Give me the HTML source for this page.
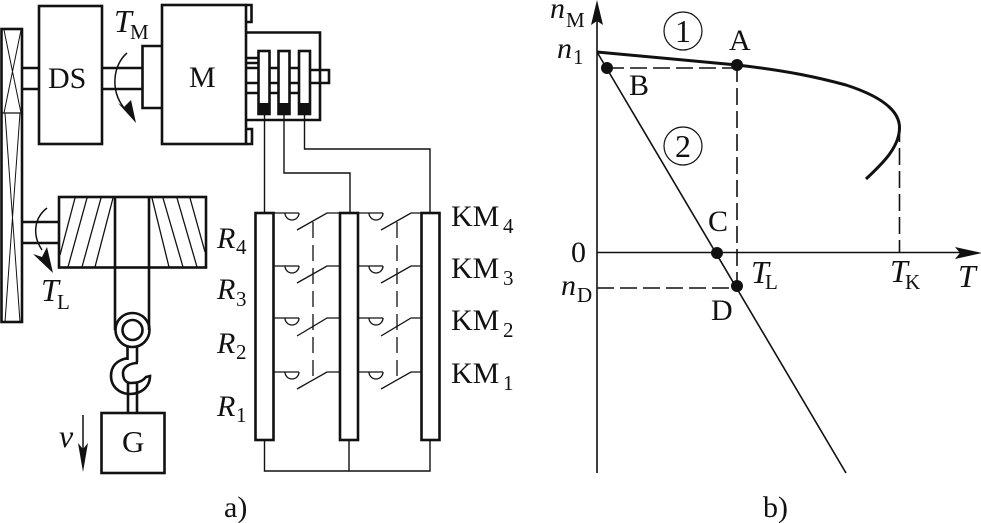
<!DOCTYPE html>
<html><head><meta charset="utf-8"><style>
html,body{margin:0;padding:0;background:#fff}
svg{display:block}
text{font-family:"Liberation Serif",serif;fill:#111;font-size:30px}
.i{font-style:italic}.s{font-size:21px}
</style></head><body>
<svg width="981" height="523" viewBox="0 0 981 523" xmlns="http://www.w3.org/2000/svg">
<g fill="none" stroke="#111" stroke-width="2.6">
<!-- left wheel -->
<rect x="1.500" y="29" width="20.500" height="293"/>
<path d="M2 113H21" stroke-width="1.2"/>
<path d="M4 30L21 113M21 30L4 113M5 113L20 322M20 113L5 322" stroke-width="1"/>
<path d="M22 68H38M22 89H38"/>
<rect x="39" y="6" width="63" height="138"/>
<path d="M102 68H142M102 89H142"/>
<path d="M161 46H142.500V108H161"/>
<rect x="162" y="5" width="84" height="139"/>
<path d="M246 5H251.500V22H246M246 129H252V144H246"/>
<path d="M246 32.500H320V120H246"/>
<rect x="258.500" y="51" width="11" height="63"/>
<rect x="278.500" y="51" width="11" height="63"/>
<rect x="299" y="51" width="11" height="63"/>
<path d="M246 58H258M246 63H258M246 68H258M269 68H278M289 68H298M246 83H258M269 83H278M289 83H298M246 93H258M269 93H278M289 93H298"/>
<path d="M310 70H329V83H310"/>
<!-- drum -->
<rect x="59" y="197" width="147" height="70.500"/>
<path d="M22 222H59M22 243H59"/>
<path d="M115 197V330M149 197V330"/>
<g stroke-width="1.300"><path d="M75 198L60 255M87 198L68 267M101 198L82 267M113 198L95 267M152 198L169 267M163 198L183 267M177 198L197 267M190 198L205 252"/></g>
<circle cx="132.500" cy="330" r="17"/>
<circle cx="132.500" cy="330" r="10"/>
<path d="M127.500 347V360M137 347V362"/>
<path d="M128 358C116 360 111 367 111 376C111 387 120 394 130 394C141 394 150 387 150 376L146 377C143 381 138 383 131 383C125 383 123 378 123 373C123 367 130 363 138 363"/>
<path d="M128 383V413M137 383V413"/>
<rect x="101.500" y="413" width="63" height="60"/>
<!-- curved arrows -->
<path d="M127 53C113 65 110 90 124 108" stroke-width="1.500"/>
<path d="M47 208C34 218 32 235 42 250" stroke-width="1.500"/>
<path d="M83 415V455" stroke-width="1.500"/>
<!-- wires -->
<g stroke-width="1.400">
<path d="M264.500 114V212M284 114V173H350V212M304.500 114V149H430V212M264.500 440V471H430V440M349 440V471"/>
</g>
<rect x="255.500" y="213" width="18" height="227"/>
<rect x="340" y="213" width="18" height="227"/>
<rect x="421.500" y="213" width="18" height="227"/>
<!-- switches -->
<g stroke-width="1.300">
<path d="M274 213H299M274 266H299M274 318H299M274 372H299M358 213H383M358 266H383M358 318H383M358 372H383"/>
<path d="M285 213A7 7 0 0 0 299 213M285 266A7 7 0 0 0 299 266M285 318A7 7 0 0 0 299 318M285 372A7 7 0 0 0 299 372M369 213A7 7 0 0 0 383 213M369 266A7 7 0 0 0 383 266M369 318A7 7 0 0 0 383 318M369 372A7 7 0 0 0 383 372"/>
<path d="M297 230L327 213H340M297 283L327 266H340M297 336L327 318H340M297 389L327 372H340M381 230L411 213H421M381 283L411 266H421M381 336L411 318H421M381 389L411 372H421"/>
<path d="M313 222V380M397 222V380" stroke-dasharray="16 7"/>
</g>
<!-- graph -->
<g stroke-width="1.600">
<path d="M597 12V473M597 252.500H965M597 52L846 473"/>
<path d="M607 68H737M597 288H737M737 65V286M899.500 125V252" stroke-dasharray="17 6"/>
<circle cx="683" cy="31" r="19" stroke-width="1.200"/>
<circle cx="683" cy="146" r="19" stroke-width="1.200"/>
</g>
<path d="M597 52L737 65C790 71 820 78 846 85C880 96 899 110 899.500 127C900 147 882 164 866 179" stroke-width="3"/>
</g>
<g fill="#111" stroke="none">
<rect x="258" y="103" width="12" height="11"/>
<rect x="278" y="103" width="12" height="11"/>
<rect x="298.500" y="103" width="12" height="11"/>
<path d="M136 123L118 103L124 107L131 100Z"/>
<path d="M53 273L33 254L42 257L47 247Z"/>
<path d="M83 472L78 443L83 449L88 443Z"/>
<path d="M597 0L603 25L597 21L591 25Z"/>
<path d="M982 253L955 247L960 253L955 259Z"/>
<circle cx="737" cy="65" r="6"/>
<circle cx="607" cy="68" r="6"/>
<circle cx="717" cy="253" r="6"/>
<circle cx="737" cy="286" r="6"/>
</g>
<text x="48" y="88" style="font-size:30px">DS</text>
<text x="189" y="87" style="font-size:30px">M</text>
<text x="122" y="452" style="font-size:31px">G</text>
<text x="114" y="32" class="i" style="font-size:32px">T</text><text x="130" y="39" class="s">M</text>
<text x="41" y="301" class="i" style="font-size:32px">T</text><text x="57" y="309" class="s">L</text>
<text x="59" y="447" class="i" style="font-size:32px">v</text>
<text x="217" y="248" class="i">R</text><text x="236" y="254" class="s">4</text>
<text x="217" y="299" class="i">R</text><text x="236" y="306" class="s">3</text>
<text x="217" y="353" class="i">R</text><text x="236" y="359" class="s">2</text>
<text x="217" y="416" class="i">R</text><text x="236" y="422" class="s">1</text>
<text x="451" y="226">KM</text><text x="503" y="233" class="s">4</text>
<text x="451" y="278">KM</text><text x="503" y="285" class="s">3</text>
<text x="451" y="330">KM</text><text x="503" y="337" class="s">2</text>
<text x="451" y="383">KM</text><text x="503" y="390" class="s">1</text>
<text x="550" y="18" class="i">n</text><text x="566" y="27" class="s">M</text>
<text x="557" y="58" class="i">n</text><text x="573" y="64" class="s">1</text>
<text x="571" y="262">0</text>
<text x="561" y="295" class="i">n</text><text x="577" y="302" class="s">D</text>
<text x="729" y="50">A</text>
<text x="629" y="95">B</text>
<text x="708" y="231">C</text>
<text x="711" y="320">D</text>
<text x="751" y="283" class="i" style="font-size:32px">T</text><text x="765" y="289" class="s">L</text>
<text x="890" y="282" class="i" style="font-size:32px">T</text><text x="905" y="289" class="s">K</text>
<text x="958" y="287" class="i" style="font-size:32px">T</text>
<text x="683" y="42" text-anchor="middle" style="font-size:32px">1</text>
<text x="683" y="157" text-anchor="middle" style="font-size:32px">2</text>
<text x="224" y="517">a)</text>
<text x="763" y="517">b)</text>
</svg>
</body></html>
